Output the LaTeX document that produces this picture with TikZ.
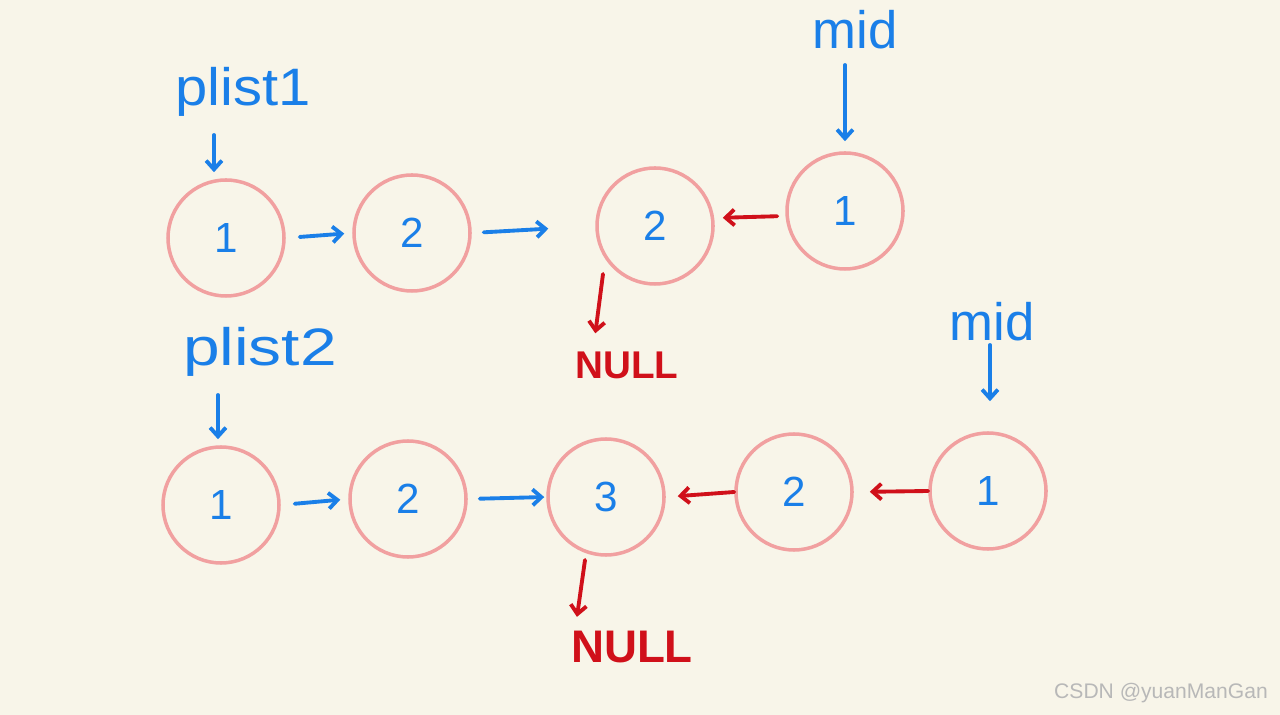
\documentclass[tikz,border=0pt]{standalone}
\usepackage{fontspec}
\setmainfont{Liberation Sans}
\usetikzlibrary{arrows.meta}
\definecolor{bg}{HTML}{F8F5E9}
\definecolor{ring}{HTML}{F1A0A0}
\definecolor{hblue}{HTML}{1A7FE8}
\definecolor{hred}{HTML}{D0101A}
\definecolor{wm}{HTML}{B8B8B8}
\tikzset{
  listnode/.style={circle, draw=ring, line width=2pt, minimum size=116*0.02cm, inner sep=0pt, text=hblue, font=\fontsize{24}{24}\selectfont},
  bluearr/.style={draw=hblue, line width=2.2pt, line cap=round, -{Straight Barb[length=5pt,width=9pt]}},
  redarr/.style={draw=hred, line width=2.2pt, line cap=round, -{Straight Barb[length=5pt,width=9pt]}},
  bluelbl/.style={text=hblue, font=\fontsize{30}{30}\selectfont, inner sep=0pt},
  redlbl/.style={text=hred, font=\fontsize{26}{26}\selectfont\bfseries, inner sep=0pt},
}
\begin{document}
\begin{tikzpicture}[x=0.02cm, y=-0.02cm]
\fill[bg] (0,0) rectangle (1280,715);
\useasboundingbox (0,0) rectangle (1280,715);
% row 1
\node[listnode] (a1) at (226,238) {1};
\node[listnode] (a2) at (412,233) {2};
\node[listnode] (a3) at (655,226) {2};
\node[listnode] (a4) at (845,211) {1};
\draw[bluearr, shorten <=14*0.02cm, shorten >=8*0.02cm] (a1.east) -- (a2.west);
\draw[bluearr, shorten <=12*0.02cm, shorten >=47*0.02cm] (a2.east) -- (a3.west);
\draw[redarr, shorten <=8*0.02cm, shorten >=8*0.02cm] (a4.west |- 0,216) -- (a3.east |- 0,218);
\node[redlbl, font=\fontsize{22}{22}\selectfont\bfseries] (n1) at (627,365) {NULL};
\coordinate (d1) at (603,274);
\draw[redarr, shorten >=18*0.02cm] (d1) -- (n1.north -| 593,0);
\node[bluelbl, xscale=1.1] (p1) at (243,92) {plist1};
\coordinate (pa1) at (214,135);
\draw[bluearr, shorten >=6*0.02cm] (pa1) -- (a1.north -| pa1);
\node[bluelbl] (m1) at (855,30) {mid};
\coordinate (ma1) at (845,65);
\draw[bluearr, shorten >=10*0.02cm] (ma1) -- (a4.north);
% row 2
\node[listnode] (b1) at (221,505) {1};
\node[listnode] (b2) at (408,499) {2};
\node[listnode] (b3) at (606,497) {3};
\node[listnode] (b4) at (794,492) {2};
\node[listnode] (b5) at (988,491) {1};
\draw[bluearr, shorten <=14*0.02cm, shorten >=8*0.02cm] (b1.east) -- (b2.west);
\draw[bluearr, shorten <=12*0.02cm, shorten >=2*0.02cm] (b2.east) -- (b3.west);
\draw[redarr, shorten <=0*0.02cm, shorten >=12*0.02cm] (b4.west) -- (b3.east);
\draw[redarr, shorten <=0*0.02cm, shorten >=16*0.02cm] (b5.west) -- (b4.east);
\node[redlbl] (n2) at (632,647) {NULL};
\coordinate (d2) at (585,560);
\draw[redarr, shorten >=14*0.02cm] (d2) -- (n2.north -| 575,0);
\node[bluelbl, xscale=1.25] (p2) at (260,352) {plist2};
\coordinate (pa2) at (218,395);
\draw[bluearr, shorten >=6*0.02cm] (pa2) -- (b1.north -| pa2);
\node[bluelbl] (m2) at (992,322) {mid};
\coordinate (ma2) at (990,345);
\draw[bluearr, shorten >=30*0.02cm] (ma2) -- (b5.north -| ma2);
% watermark
\node[text=wm, font=\fontsize{12}{12}\selectfont, inner sep=0pt] (wm) at (1161,693) {CSDN @yuanManGan};
\end{tikzpicture}
\end{document}
